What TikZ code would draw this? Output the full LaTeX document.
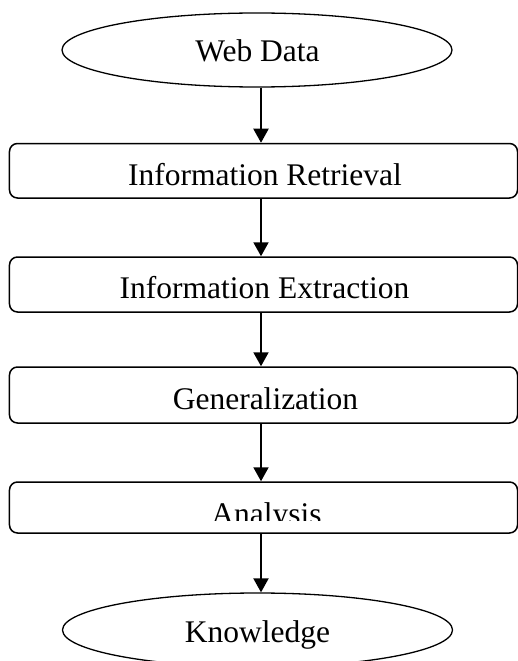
\documentclass[tikz,border=0pt]{standalone}
\usepackage{fontspec}
\setmainfont{Liberation Serif}
\usetikzlibrary{arrows.meta,shapes.geometric}
\begin{document}
\begin{tikzpicture}[x=1bp,y=-1bp,
  stage/.style={draw, line width=1.5bp, rounded corners=8bp, minimum width=508bp, inner sep=0pt},
  terminal/.style={draw, ellipse, line width=1.3bp, minimum width=390bp, minimum height=74bp, inner sep=0pt},
  stagetext/.style={anchor=base, font=\fontsize{31.5bp}{36bp}\selectfont, inner sep=0pt},
  flow/.style={line width=2bp, -{Triangle[width=15bp,length=14bp]}}]
\useasboundingbox (0,0) rectangle (518,661);

% start and end terminals
\node[terminal] (web) at (257,50) {};
\node[stagetext] (webtxt) at (257.5,62) {Web Data};
\node[terminal] (know) at (257.5,630) {};
\node[stagetext] (knowtxt) at (257.5,642) {Knowledge};

% processing stages
\node[stage, minimum height=54.5bp] (ir) at (263.5,170.75) {};
\node[stagetext] (irtxt) at (265,185) {Information Retrieval};
\node[stage, minimum height=55bp] (ie) at (263.5,284.5) {};
\node[stagetext] (ietxt) at (264.5,298) {Information Extraction};
\node[stage, minimum height=56bp] (gen) at (263.5,395) {};
\node[stagetext] (gentxt) at (265.5,409) {Generalization};
\node[stage, minimum height=51bp] (an) at (263.5,507.5) {};
\begin{scope}
  \clip (0,0) rectangle (518,520);
  \node[stagetext] (antxt) at (266.5,524) {Analysis};
\end{scope}

% vertical flow
\coordinate (spine) at (261,0);
\draw[flow] (web.south -| spine) -- (ir.north -| spine);
\draw[flow] (ir.south -| spine) -- (ie.north -| spine);
\draw[flow] (ie.south -| spine) -- (gen.north -| spine);
\draw[flow] (gen.south -| spine) -- (an.north -| spine);
\draw[flow] (an.south -| spine) -- (know.north -| spine);
\end{tikzpicture}
\end{document}
